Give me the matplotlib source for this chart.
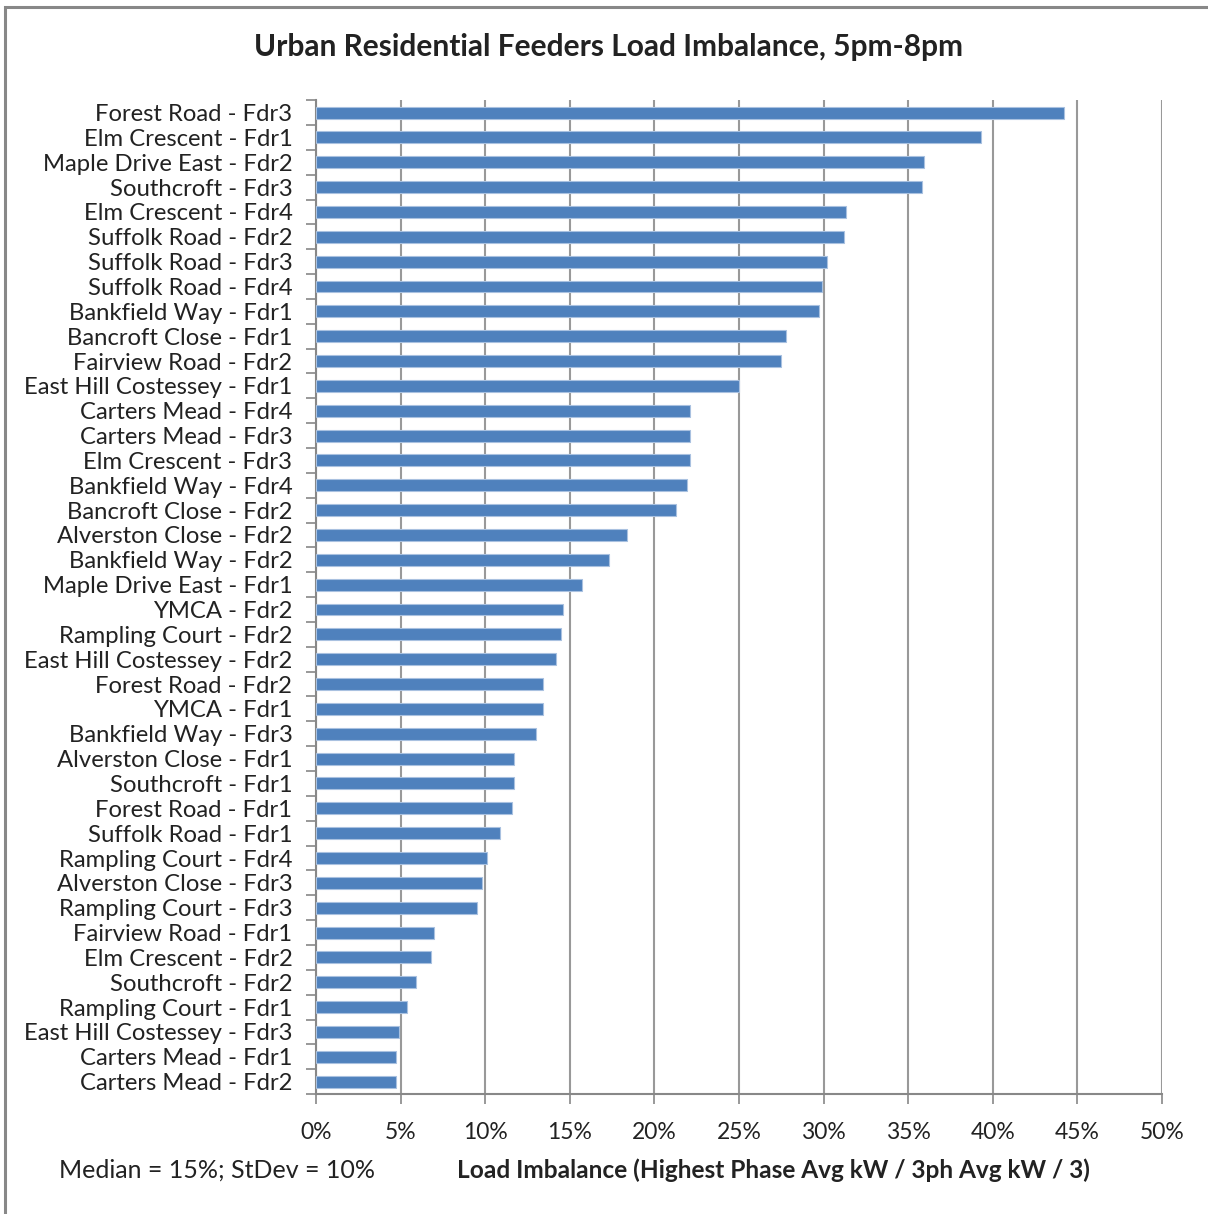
import matplotlib
matplotlib.use("Agg")
import matplotlib.pyplot as plt
from matplotlib.patches import Rectangle
from matplotlib.ticker import PercentFormatter, MultipleLocator

feeders = [
    "Forest Road - Fdr3", "Elm Crescent - Fdr1", "Maple Drive East - Fdr2",
    "Southcroft - Fdr3", "Elm Crescent - Fdr4", "Suffolk Road - Fdr2",
    "Suffolk Road - Fdr3", "Suffolk Road - Fdr4", "Bankfield Way - Fdr1",
    "Bancroft Close - Fdr1", "Fairview Road - Fdr2", "East Hill Costessey - Fdr1",
    "Carters Mead - Fdr4", "Carters Mead - Fdr3", "Elm Crescent - Fdr3",
    "Bankfield Way - Fdr4", "Bancroft Close - Fdr2", "Alverston Close - Fdr2",
    "Bankfield Way - Fdr2", "Maple Drive East - Fdr1", "YMCA - Fdr2",
    "Rampling Court - Fdr2", "East Hill Costessey - Fdr2", "Forest Road - Fdr2",
    "YMCA - Fdr1", "Bankfield Way - Fdr3", "Alverston Close - Fdr1",
    "Southcroft - Fdr1", "Forest Road - Fdr1", "Suffolk Road - Fdr1",
    "Rampling Court - Fdr4", "Alverston Close - Fdr3", "Rampling Court - Fdr3",
    "Fairview Road - Fdr1", "Elm Crescent - Fdr2", "Southcroft - Fdr2",
    "Rampling Court - Fdr1", "East Hill Costessey - Fdr3", "Carters Mead - Fdr1",
    "Carters Mead - Fdr2",
]
# load imbalance, % of average phase load
imbalance = [
    44.2, 39.3, 35.9, 35.8, 31.3, 31.2, 30.2, 29.9, 29.7, 27.8,
    27.5, 25.0, 22.1, 22.1, 22.1, 21.9, 21.3, 18.4, 17.3, 15.7,
    14.6, 14.5, 14.2, 13.4, 13.4, 13.0, 11.7, 11.7, 11.6, 10.9,
    10.1, 9.8, 9.5, 7.0, 6.8, 5.9, 5.4, 4.9, 4.7, 4.7,
]

plt.rcParams['font.family'] = ['Lato', 'DejaVu Sans']

fig = plt.figure(figsize=(12.08, 12.14), dpi=100)
ax = fig.add_axes([0.2616, 0.0988, 0.7004, 0.8187])

pos = list(range(len(feeders)))
ax.barh(pos, imbalance, height=0.48, color="#4F81BD", edgecolor="#A9C1E0",
        linewidth=0.8, zorder=3)

ax.set_ylim(len(feeders) - 0.5, -0.5)
ax.set_xlim(0, 50)
ax.xaxis.set_major_locator(MultipleLocator(5))
ax.xaxis.set_major_formatter(PercentFormatter(decimals=0))
ax.set_yticks(pos)
ax.set_yticklabels(feeders, fontsize=17.2, color="#222222")
ax.set_yticks([p + 0.5 for p in [-1] + pos], minor=True)
ax.tick_params(axis="y", which="major", length=0, pad=17)
ax.tick_params(axis="y", which="minor", length=7, color="#888888", width=1.2)
ax.tick_params(axis="x", length=7, color="#888888", width=1.2, labelsize=16.5,
               pad=13, labelcolor="#222222")

ax.grid(axis="x", color="#999999", linewidth=1.5, zorder=0)
for side in ("top", "right"):
    ax.spines[side].set_visible(False)
for side in ("left", "bottom"):
    ax.spines[side].set_color("#888888")
    ax.spines[side].set_linewidth(1.5)

fig.text(0.504, 0.961, "Urban Residential Feeders Load Imbalance, 5pm-8pm",
         ha="center", va="center", fontsize=21.5, fontweight="bold",
         color="#222222")
fig.text(0.049, 0.036, "Median = 15%; StDev = 10%", ha="left", va="center",
         fontsize=18, color="#222222")
fig.text(0.6403, 0.036, "Load Imbalance (Highest Phase Avg kW / 3ph Avg kW / 3)",
         ha="center", va="center", fontsize=17.6, fontweight="bold",
         color="#222222")

# outer chart border (left and top edges)
fig.patches.append(Rectangle((0.0045, -0.05), 1.2, 1.044, transform=fig.transFigure,
                             fill=False, edgecolor="#888888", linewidth=2.2))

fig.savefig("out.png", dpi=100, facecolor="white")
